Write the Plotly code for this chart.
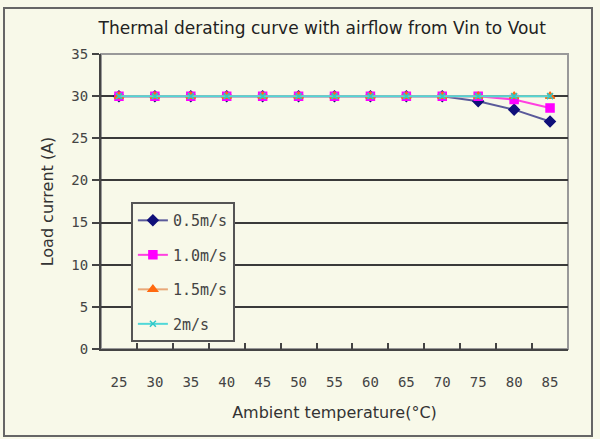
import plotly.graph_objects as go

temps = ["25", "30", "35", "40", "45", "50", "55", "60", "65", "70", "75", "80", "85"]
s05 = [30, 30, 30, 30, 30, 30, 30, 30, 30, 30, 29.4, 28.4, 27.0]
s10 = [30, 30, 30, 30, 30, 30, 30, 30, 30, 30, 30, 29.6, 28.6]
s15 = [30, 30, 30, 30, 30, 30, 30, 30, 30, 30, 30, 30, 30]
s20 = [30, 30, 30, 30, 30, 30, 30, 30, 30, 30, 30, 30, 30]
names = ["0.5m/s", "1.0m/s", "1.5m/s", "2m/s"]
yticks = [0, 5, 10, 15, 20, 25, 30, 35]

bg = "#f8f9e9"
font = "DejaVu Sans, sans-serif"
tickfont = dict(family="DejaVu Sans Mono, monospace", size=14, color="#444444")

fig = go.Figure()
styles = [
    (s05, "#5a5a9a", "#10107a", "diamond", 8),
    (s10, "#ff40e0", "#ff00ff", "square", 8),
    (s15, "#e8a878", "#ff6a10", "triangle-up", 8),
    (s20, "#50d8d8", "#30c8c8", "x-thin-open", 6),
]
for i, (vals, lc, mc, sym, ms) in enumerate(styles):
    fig.add_trace(go.Scatter(
        x=temps, y=vals, name=names[i], mode="lines+markers",
        legendgroup=str(i),
        line=dict(color=lc, width=2),
        marker=dict(symbol=sym, size=ms, color=mc, line=dict(color=mc, width=1.5)),
    ))

fig.update_layout(
    width=600, height=439,
    margin=dict(l=101, r=32, t=54, b=90),
    paper_bgcolor=bg, plot_bgcolor=bg,
    font=dict(family=font, size=13, color="#333333"),
    title=dict(text="Thermal derating curve with airflow from Vin to Vout",
               x=0.537, xanchor="center", y=0.937, yanchor="middle",
               font=dict(size=17, color="#222222")),
    showlegend=True,
    legend=dict(x=0.064, y=0.498, xanchor="left", yanchor="top",
                bgcolor=bg, bordercolor="#555555", borderwidth=2,
                font=dict(family="DejaVu Sans Mono, monospace", size=15, color="#444444"),
                tracegroupgap=12, traceorder="grouped",
                itemwidth=30),
    xaxis=dict(type="category", range=[-0.5, 12.5], autorange=False,
               tickson="boundaries", ticks="inside", ticklen=6,
               tickcolor="#444444", tickwidth=2,
               showline=True, linecolor="#444444", linewidth=2, mirror=False,
               showgrid=False, tickfont=tickfont, ticklabelstandoff=19,
               title=dict(text="Ambient temperature(°C)", standoff=18,
                          font=dict(size=16, color="#333333"))),
    yaxis=dict(range=[0, 35], tickvals=yticks, ticks="outside", ticklen=7,
               tickcolor="#444444", tickwidth=2,
               showline=True, linecolor="#444444", linewidth=2,
               showgrid=True, gridcolor="#3a3a3a", gridwidth=2,
               zeroline=False, tickfont=tickfont, ticklabelstandoff=1,
               title=dict(text="Load current (A)", standoff=14,
                          font=dict(size=16, color="#333333"))),
)
# plot frame on top/right
fig.add_shape(type="rect", xref="paper", yref="paper", x0=0, y0=0, x1=1, y1=1,
              line=dict(color="#999999", width=2), layer="below")
# outer border (pixels: x 4..592, y 8..436)
fig.add_shape(type="rect", xref="paper", yref="paper",
              x0=-97/467, y0=-87/295, x1=1 + 24/467, y1=1 + 46/295,
              line=dict(color="#666666", width=2), layer="below")

fig.write_html("out.html", config={"displayModeBar": False},
               post_script="document.body.style.margin='0';document.body.style.padding='0';window.dispatchEvent(new Event('resize'));")
